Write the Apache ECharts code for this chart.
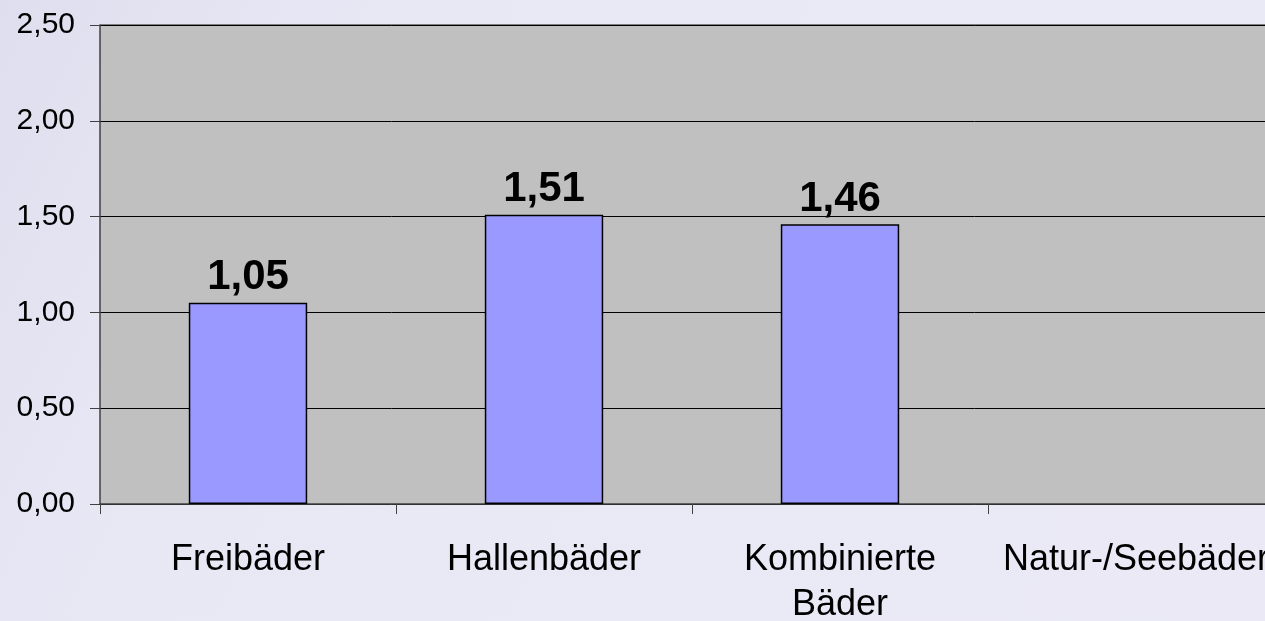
<!DOCTYPE html>
<html>
<head>
<meta charset="utf-8">
<script src="https://cdn.jsdelivr.net/npm/echarts@6/dist/echarts.min.js"></script>
<style>
html,body{margin:0;padding:0;width:1265px;height:621px;overflow:hidden;}
#c{width:1265px;height:621px;}
</style>
</head>
<body>
<div id="c"></div>
<script>
const categories = ['Freibäder', 'Hallenbäder', 'Kombinierte\nBäder', 'Natur-/Seebäder'];
const values = [1.05, 1.51, 1.46, null];
const yTicks = [0, 0.5, 1.0, 1.5, 2.0, 2.5];

const fmt = v => Number(v).toFixed(2).replace('.', ',');
const FONT = '"Liberation Sans", Arial, sans-serif';

const chart = echarts.init(document.getElementById('c'), null, {renderer: 'canvas'});
chart.setOption({
  backgroundColor: {
    type: 'linear', x: 0, y: 0, x2: 1, y2: 1,
    colorStops: [
      {offset: 0, color: '#DEDEEE'},
      {offset: 0.25, color: '#E8E8F5'},
      {offset: 1, color: '#EBE9F6'}
    ]
  },
  animation: false,
  grid: {
    left: 100, top: 25, right: -19, bottom: 117,
    outerBoundsMode: 'none', containLabel: false,
    show: true, backgroundColor: '#C0C0C0', borderWidth: 0
  },
  xAxis: {
    type: 'category',
    data: categories,
    axisLine: {show: true, lineStyle: {color: '#404040', width: 1.5}},
    axisTick: {show: true, length: 10, lineStyle: {color: '#404040'}},
    axisLabel: {
      interval: 0, hideOverlap: false,
      fontFamily: FONT, fontSize: 36, color: '#000', margin: 34, lineHeight: 45
    }
  },
  yAxis: {
    type: 'value',
    min: yTicks[0], max: yTicks[yTicks.length - 1], interval: 0.5,
    axisLine: {show: true, lineStyle: {color: '#404040', width: 1.5}},
    axisTick: {show: true, length: 10, lineStyle: {color: '#404040'}},
    splitLine: {show: true, lineStyle: {color: '#000', width: 1}},
    axisLabel: {
      formatter: fmt, fontFamily: FONT, fontSize: 30, color: '#000', margin: 25
    }
  },
  series: [{
    type: 'bar',
    data: values,
    barWidth: '40%',
    itemStyle: {color: '#9999FF', borderColor: '#000', borderWidth: 1.5},
    label: {
      show: true, position: 'top', distance: 4,
      formatter: p => p.value == null ? '' : fmt(p.value),
      fontFamily: FONT, fontSize: 42, fontWeight: 'bold', color: '#000'
    }
  }],
  graphic: [{
    type: 'line',
    shape: {x1: 100, y1: 25, x2: 1265, y2: 25},
    style: {stroke: '#808080', lineWidth: 2}
  }]
});
</script>
</body>
</html>
